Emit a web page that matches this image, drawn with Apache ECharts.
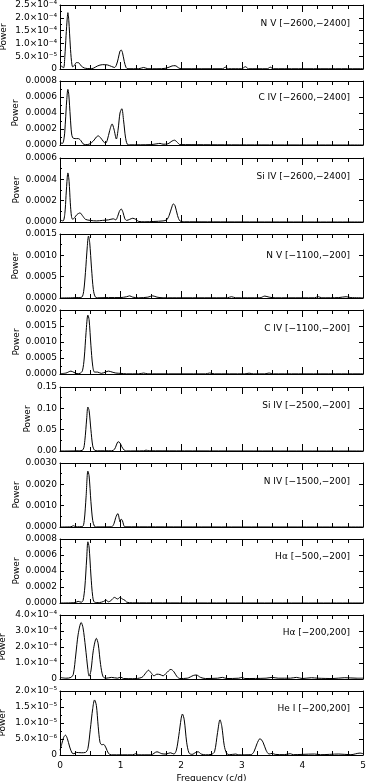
<!DOCTYPE html>
<html><head><meta charset="utf-8">
<script src="https://cdn.jsdelivr.net/npm/echarts@6/dist/echarts.min.js"></script>
<style>html,body{margin:0;padding:0;background:#fff}#c{width:366px;height:781px}</style>
</head><body><div id="c"></div>
<script>
// ---- data ----
const titles = ['N V [−2600,−2400]','C IV [−2600,−2400]','Si IV [−2600,−2400]','N V [−1100,−200]','C IV [−1100,−200]','Si IV [−2500,−200]','N IV [−1500,−200]','Hα [−500,−200]','Hα [−200,200]','He I [−200,200]'];
const yMax  = [2.5e-4, 8e-4, 6e-4, 1.5e-3, 2e-3, 0.15, 3e-3, 8e-4, 4e-4, 2e-5];
const yStep = [5e-5, 2e-4, 2e-4, 5e-4, 5e-4, 0.05, 1e-3, 2e-4, 1e-4, 5e-6];
const yLabels = [
  ['0','5.0×10⁻⁵','1.0×10⁻⁴','1.5×10⁻⁴','2.0×10⁻⁴','2.5×10⁻⁴'],
  ['0.0000','0.0002','0.0004','0.0006','0.0008'],
  ['0.0000','0.0002','0.0004','0.0006'],
  ['0.0000','0.0005','0.0010','0.0015'],
  ['0.0000','0.0005','0.0010','0.0015','0.0020'],
  ['0.00','0.05','0.10','0.15'],
  ['0.0000','0.0010','0.0020','0.0030'],
  ['0.0000','0.0002','0.0004','0.0006','0.0008'],
  ['0','1.0×10⁻⁴','2.0×10⁻⁴','3.0×10⁻⁴','4.0×10⁻⁴'],
  ['0','5.0×10⁻⁶','1.0×10⁻⁵','1.5×10⁻⁵','2.0×10⁻⁵']
];
const xLabels = ['0','1','2','3','4','5'];

const f1 = [0,0.03,0.06,0.08,0.10,0.12,0.13,0.145,0.17,0.19,0.21,0.24,0.27,0.31,0.35,0.40,0.45,0.50,0.55,0.62,0.70,0.78,0.85,0.90,0.93,0.96,0.99,1.01,1.03,1.06,1.09,1.12,1.30,1.38,1.45,1.60,1.75,1.85,1.90,1.96,2.00,2.68,2.73,2.78,3.00,3.06,3.11,3.42,3.47,3.52,5.0];
const p1 = [1.5e-5,1.0e-5,0.5e-5,5e-5,13e-5,20e-5,22e-5,19e-5,9e-5,3e-5,0.8e-5,1.5e-5,2.5e-5,2.4e-5,1.2e-5,0.4e-5,0.2e-5,0.1e-5,0.3e-5,1.2e-5,1.7e-5,1.6e-5,1.0e-5,0.6e-5,1.5e-5,4e-5,7e-5,7.4e-5,6.5e-5,3e-5,0.6e-5,0.1e-5,0.1e-5,0.6e-5,0.1e-5,0.1e-5,0.3e-5,1.2e-5,1.3e-5,0.4e-5,0.1e-5,0.1e-5,0.7e-5,0.1e-5,0.1e-5,0.9e-5,0.1e-5,0.1e-5,0.7e-5,0.1e-5,0.1e-5];

const f2 = [0,0.04,0.07,0.09,0.11,0.13,0.145,0.17,0.19,0.21,0.25,0.30,0.34,0.38,0.42,0.48,0.55,0.60,0.63,0.67,0.72,0.75,0.78,0.82,0.86,0.89,0.93,0.96,0.99,1.02,1.05,1.08,1.11,1.15,1.50,1.60,1.65,1.70,1.78,1.85,1.89,1.94,1.98,5.0];
const p2 = [0.3e-4,0.2e-4,1.0e-4,3.0e-4,5.5e-4,6.95e-4,6.3e-4,3.5e-4,1.5e-4,0.9e-4,0.8e-4,0.8e-4,0.6e-4,0.15e-4,0.05e-4,0.1e-4,0.5e-4,1.0e-4,1.14e-4,0.9e-4,0.4e-4,0.2e-4,0.6e-4,1.8e-4,2.63e-4,2.0e-4,0.75e-4,2.0e-4,4.0e-4,4.53e-4,3.0e-4,1.0e-4,0.1e-4,0.02e-4,0.05e-4,0.15e-4,0.2e-4,0.1e-4,0.15e-4,0.5e-4,0.6e-4,0.3e-4,0.05e-4,0];

const f3 = [0,0.05,0.08,0.10,0.12,0.13,0.15,0.17,0.19,0.21,0.24,0.28,0.33,0.37,0.42,0.50,0.60,0.70,0.80,0.88,0.92,0.95,0.98,1.01,1.04,1.07,1.10,1.15,1.20,1.25,1.30,1.40,1.55,1.70,1.76,1.80,1.84,1.87,1.90,1.94,1.98,2.05,5.0];
const p3 = [0.2e-4,0.1e-4,0.8e-4,2.5e-4,4.2e-4,4.6e-4,3.8e-4,1.8e-4,0.5e-4,0.25e-4,0.4e-4,0.7e-4,0.85e-4,0.6e-4,0.25e-4,0.15e-4,0.1e-4,0.15e-4,0.2e-4,0.3e-4,0.2e-4,0.5e-4,1.0e-4,1.22e-4,0.9e-4,0.3e-4,0.15e-4,0.25e-4,0.35e-4,0.25e-4,0.05e-4,0.02e-4,0.05e-4,0.1e-4,0.2e-4,0.6e-4,1.3e-4,1.7e-4,1.5e-4,0.6e-4,0.1e-4,0.02e-4,0];

const f4 = [0,0.20,0.30,0.36,0.39,0.42,0.45,0.47,0.49,0.52,0.55,0.58,0.62,0.80,1.00,1.10,1.15,1.20,1.30,1.45,1.53,1.60,1.70,2.00,2.76,2.83,2.90,3.30,3.38,3.45,3.55,4.00,4.20,4.26,4.32,4.60,4.72,4.80,5.0];
const p4 = [0,0.05e-4,0.1e-4,0.2e-4,1.5e-4,6e-4,12e-4,14.5e-4,13e-4,7e-4,2e-4,0.3e-4,0.05e-4,0.1e-4,0.1e-4,0.3e-4,0.5e-4,0.2e-4,0.05e-4,0.2e-4,0.5e-4,0.2e-4,0.05e-4,0.05e-4,0.05e-4,0.3e-4,0.05e-4,0.05e-4,0.45e-4,0.2e-4,0.05e-4,0.05e-4,0.05e-4,0.3e-4,0.05e-4,0.1e-4,0.3e-4,0.1e-4,0.05e-4];

const f5 = [0,0.10,0.18,0.23,0.28,0.33,0.37,0.40,0.43,0.46,0.48,0.51,0.54,0.57,0.62,0.68,0.75,0.80,0.86,0.92,1.00,1.10,1.30,1.38,1.45,1.60,2.40,2.47,2.55,3.05,3.12,3.19,3.38,3.45,3.52,5.0];
const p5 = [0.1e-4,0.3e-4,0.9e-4,0.5e-4,0.1e-4,0.2e-4,1.0e-4,5e-4,13e-4,18.4e-4,17e-4,9e-4,2.5e-4,0.6e-4,0.6e-4,0.2e-4,0.6e-4,0.9e-4,0.6e-4,0.3e-4,0.2e-4,0.05e-4,0.05e-4,0.3e-4,0.05e-4,0.05e-4,0.05e-4,0.3e-4,0.05e-4,0.05e-4,0.25e-4,0.05e-4,0.05e-4,0.3e-4,0.05e-4,0.05e-4];

const f6 = [0,0.30,0.38,0.41,0.44,0.46,0.48,0.51,0.54,0.57,0.62,0.85,0.90,0.93,0.96,0.99,1.02,1.06,1.10,1.38,1.42,1.47,5.0];
const p6 = [0,0.0005,0.003,0.025,0.075,0.103,0.095,0.05,0.012,0.002,0.0005,0.0005,0.004,0.014,0.0218,0.019,0.010,0.002,0.0002,0.0005,0.002,0.0005,0];

const f7 = [0,0.18,0.22,0.26,0.37,0.40,0.43,0.46,0.48,0.51,0.54,0.57,0.60,0.85,0.89,0.92,0.955,0.98,0.99,1.01,1.03,1.05,1.07,5.0];
const p7 = [0,0.1e-4,0.6e-4,0.1e-4,0.2e-4,3e-4,14e-4,26.2e-4,24e-4,12e-4,3e-4,0.3e-4,0.05e-4,0.1e-4,1.5e-4,4.5e-4,6.3e-4,3.5e-4,2.4e-4,3.7e-4,3.0e-4,1.0e-4,0.1e-4,0];

const f8 = [0,0.25,0.30,0.35,0.38,0.41,0.44,0.46,0.48,0.51,0.54,0.57,0.65,0.72,0.76,0.80,0.84,0.90,0.95,0.99,1.03,1.07,1.10,1.20,5.0];
const p8 = [0,0.05e-4,0.2e-4,0.1e-4,0.3e-4,2e-4,5.5e-4,7.65e-4,7e-4,3.5e-4,0.8e-4,0.1e-4,0.05e-4,0.2e-4,0.35e-4,0.15e-4,0.3e-4,0.7e-4,0.5e-4,0.7e-4,0.5e-4,0.35e-4,0.1e-4,0.02e-4,0];

const f9 = [0,0.10,0.18,0.22,0.26,0.30,0.35,0.38,0.42,0.46,0.48,0.51,0.55,0.60,0.63,0.67,0.71,0.76,0.85,0.95,1.00,1.05,1.20,1.35,1.42,1.46,1.50,1.55,1.60,1.65,1.70,1.75,1.83,1.88,1.93,1.98,2.10,2.20,2.25,2.32,2.40,2.60,2.68,2.75,2.95,3.00,3.05,3.40,3.50,3.60,3.80,3.90,4.00,4.15,4.25,4.50,4.70,4.90,5.0];
const p9 = [0.1e-4,0.05e-4,0.1e-4,0.3e-4,1.5e-4,2.8e-4,3.53e-4,3.2e-4,2.0e-4,0.6e-4,0.18e-4,0.5e-4,1.8e-4,2.54e-4,2.2e-4,0.9e-4,0.15e-4,0.05e-4,0.1e-4,0.05e-4,0.12e-4,0.03e-4,0.02e-4,0.1e-4,0.4e-4,0.55e-4,0.4e-4,0.2e-4,0.3e-4,0.28e-4,0.2e-4,0.35e-4,0.6e-4,0.45e-4,0.15e-4,0.03e-4,0.05e-4,0.22e-4,0.25e-4,0.1e-4,0.03e-4,0.05e-4,0.1e-4,0.03e-4,0.05e-4,0.1e-4,0.03e-4,0.05e-4,0.1e-4,0.05e-4,0.05e-4,0.1e-4,0.03e-4,0.08e-4,0.05e-4,0.03e-4,0.08e-4,0.05e-4,0.05e-4];

const f10 = [0,0.03,0.06,0.09,0.12,0.16,0.20,0.23,0.27,0.35,0.42,0.46,0.50,0.54,0.57,0.60,0.63,0.66,0.69,0.72,0.76,0.80,0.85,1.20,1.25,1.30,1.50,1.60,1.68,1.75,1.82,1.88,1.92,1.96,2.00,2.02,2.05,2.09,2.13,2.18,2.24,2.28,2.33,2.40,2.50,2.55,2.60,2.64,2.67,2.71,2.75,2.80,2.90,2.95,3.15,3.20,3.25,3.30,3.35,3.40,3.45,3.50,3.55,3.70,3.80,3.85,4.00,4.20,4.30,4.60,4.80,4.95,5.0];
const p10 = [1.5e-6,3.5e-6,5.5e-6,6.2e-6,5.2e-6,2.5e-6,0.6e-6,0.4e-6,0.8e-6,0.7e-6,0.8e-6,2e-6,8e-6,14.5e-6,17.2e-6,15.5e-6,9e-6,4e-6,3.2e-6,3.3e-6,2.2e-6,0.5e-6,0.05e-6,0.05e-6,0.4e-6,0.05e-6,0.05e-6,1.0e-6,0.4e-6,0.3e-6,0.7e-6,0.3e-6,1.5e-6,6e-6,11.5e-6,12.8e-6,11e-6,4e-6,0.6e-6,0.2e-6,0.8e-6,1.0e-6,0.3e-6,0.05e-6,0.2e-6,1e-6,7e-6,11e-6,9e-6,3e-6,0.5e-6,0.1e-6,0.3e-6,0.05e-6,0.1e-6,1e-6,3.5e-6,5.1e-6,4e-6,1.5e-6,0.3e-6,0.5e-6,0.2e-6,0.1e-6,0.4e-6,0.1e-6,0.2e-6,0.3e-6,0.1e-6,0.3e-6,0.1e-6,0.6e-6,0.4e-6];

const freqs = [f1,f2,f3,f4,f5,f6,f7,f8,f9,f10];
const powers = [p1,p2,p3,p4,p5,p6,p7,p8,p9,p10];

// ---- layout ----
const tops = [5,81,158,234,310,387,463,539,615,691];
const panelH = 64;
const nameGaps = [52,40,39,40,39,28,39,39,53,53];
const titleDy = [20,18,20,23,20,20,20,19,19,19];
const FONT = 'DejaVu Sans';

const chart = echarts.init(document.getElementById('c'), null, {renderer:'canvas'});
const grid=[], xAxis=[], yAxis=[], series=[], graphic=[];
for (let i=0;i<10;i++){
  const last = i===9;
  grid.push({left:60, right:3, top:tops[i], height:panelH, show:false, containLabel:false, outerBoundsMode:'none'});
  const xBase = {gridIndex:i, type:'value', min:0, max:5, interval:1,
    axisLine:{show:true, onZero:false, lineStyle:{color:'#000', width:1}},
    axisTick:{show:true, inside:true, length:7, lineStyle:{color:'#000'}},
    minorTick:{show:true, splitNumber:4, length:4, lineStyle:{color:'#000'}},
    splitLine:{show:false}, minorSplitLine:{show:false}};
  xAxis.push(Object.assign({}, xBase, {position:'bottom',
    axisLabel:{show:last, color:'#000', fontFamily:FONT, fontSize:9, margin:6,
      formatter:v=>xLabels[Math.round(v)]},
    name: last ? 'Frequency (c/d)' : '', nameLocation:'middle', nameGap:19, nameMoveOverlap:false,
    nameTextStyle:{color:'#000', fontFamily:FONT, fontSize:9}}));
  xAxis.push(Object.assign({}, xBase, {position:'top', axisLabel:{show:false}}));
  const step = yStep[i], labs = yLabels[i];
  const yBase = {gridIndex:i, type:'value', min:0, max:yMax[i], interval:step,
    axisLine:{show:true, onZero:false, lineStyle:{color:'#000', width:1}},
    splitLine:{show:false}, minorSplitLine:{show:false}};
  yAxis.push(Object.assign({}, yBase, {position:'left',
    axisTick:{show:true, inside:true, length:4, lineStyle:{color:'#000'}},
    minorTick:{show:true, splitNumber:2, length:2, lineStyle:{color:'#000'}},
    axisLabel:{show:true, color:'#000', fontFamily:FONT, fontSize:9, margin:3,
      formatter:v=>labs[Math.round(v/step)] ?? ''},
    name:'Power', nameLocation:'middle', nameGap:nameGaps[i], nameMoveOverlap:false,
    nameTextStyle:{color:'#000', fontFamily:FONT, fontSize:9}}));
  yAxis.push(Object.assign({}, yBase, {position:'right',
    axisTick:{show:true, inside:true, length:4, lineStyle:{color:'#000'}},
    axisLabel:{show:false}}));
  series.push({type:'line', xAxisIndex:2*i, yAxisIndex:2*i,
    data: freqs[i].map((x,j)=>[x, powers[i][j]]),
    showSymbol:false, smooth:0.3, lineStyle:{color:'#000', width:1}, silent:true, animation:false});
  graphic.push({type:'text', right:16, top:tops[i]+titleDy[i]-6,
    style:{text:titles[i], fill:'#000', font:'9px "DejaVu Sans"'}});
}
chart.setOption({animation:false, backgroundColor:'#fff', grid, xAxis, yAxis, series, graphic});
</script></body></html>
